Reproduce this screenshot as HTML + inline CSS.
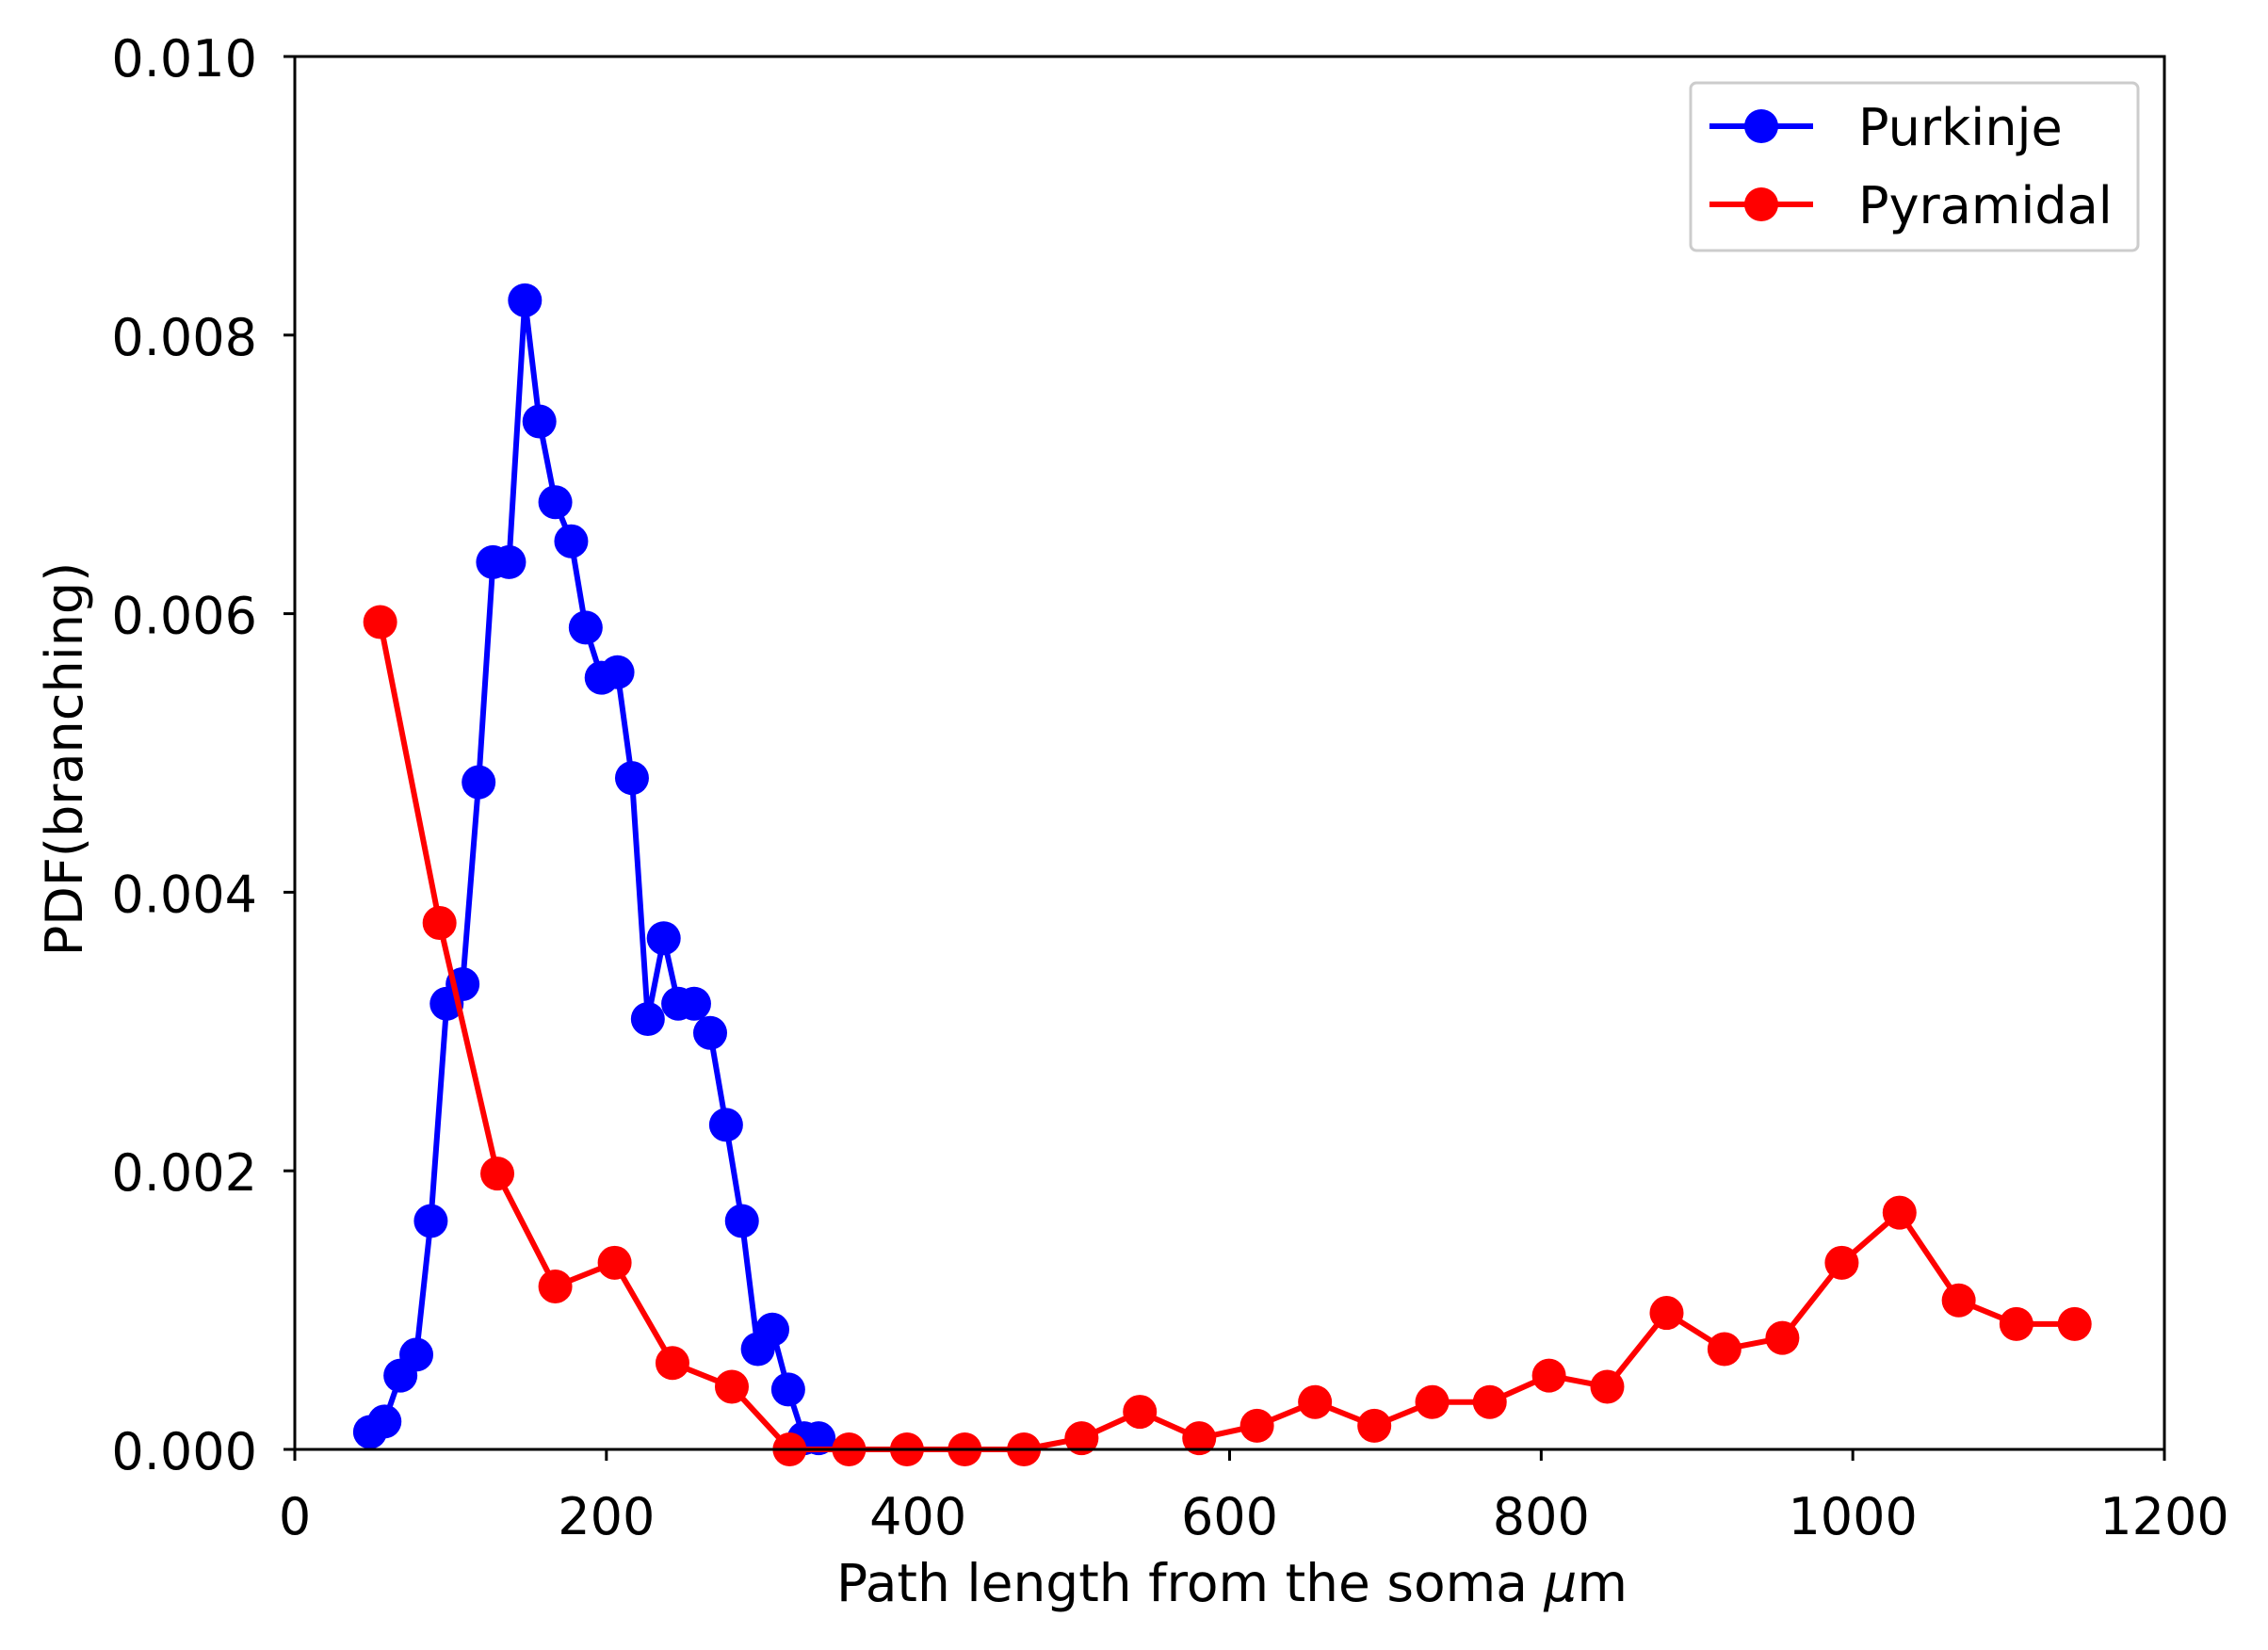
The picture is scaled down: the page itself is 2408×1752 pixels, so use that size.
<!DOCTYPE html>
<html><head><meta charset="utf-8"><style>
html,body{margin:0;padding:0;background:#fff;}
svg{display:block;font-family:"DejaVu Sans","Liberation Sans",sans-serif;}
</style></head><body>
<svg id="chart" width="2408" height="1752" viewBox="0 0 2408 1752">
<rect width="2408" height="1752" fill="#fff"/>
<g id="ticks"></g>
<g id="series"></g>
<rect x="313" y="60" width="1985" height="1479" fill="none" stroke="#000" stroke-width="3"/>
<text x="1308" y="1700" font-size="55" text-anchor="middle">Path length from the soma <tspan font-style="italic">μ</tspan>m</text>
<text transform="translate(87,806) rotate(-90)" font-size="54" text-anchor="middle">PDF(branching)</text>
<g>
<rect x="1795" y="88" width="475" height="178" rx="6" fill="#fff" stroke="#ccc" stroke-width="3"/>
<g>
<line x1="1815" y1="134" x2="1925" y2="134" stroke="#0000ff" stroke-width="6"/>
<circle cx="1870" cy="134" r="18" fill="#0000ff"/>
<text x="1973" y="154" font-size="54">Purkinje</text></g>
<g>
<line x1="1815" y1="217" x2="1925" y2="217" stroke="#ff0000" stroke-width="6"/>
<circle cx="1870" cy="217" r="18" fill="#ff0000"/>
<text x="1973" y="237" font-size="54">Pyramidal</text></g>
</g>
</svg>
<script>
const purkX=[48.3,57.6,67.8,78,87.3,97.5,107.7,118,127.2,137.5,147.7,157,167.2,177.4,186.7,196.9,207.1,216.4,226.6,236.8,246.1,256.3,266.6,276.8,287,297.2,306.5,316.7,326.9,336.2];
const purkY=[0.000125,0.0002,0.00053,0.00068,0.00164,0.0032,0.00334,0.00479,0.00637,0.00637,0.00825,0.00738,0.0068,0.00652,0.0059,0.00554,0.00558,0.00482,0.00309,0.00367,0.0032,0.0032,0.00299,0.00233,0.00164,0.00072,0.00086,0.00043,0.00008,0.00008];
const pyrX=[54.8,92.9,130,167.2,205.3,242.4,280.5,317.6,355.7,392.9,430,468,505,542.4,580.5,617.6,654.8,692.9,730,767,805,842.4,880.5,917.6,954.8,992.9,1030,1068,1105,1142.4];
const pyrY=[0.00594,0.00378,0.00198,0.00117,0.00134,0.00062,0.00045,0,0,0,0,0,0.00008,0.00027,0.00008,0.00017,0.00034,0.00017,0.00034,0.00034,0.00053,0.00045,0.00098,0.00072,0.0008,0.00134,0.0017,0.00107,0.0009,0.0009];
const xTicks=[0,200,400,600,800,1000,1200];
const yTicks=[0,0.002,0.004,0.006,0.008,0.010];
const L=313,R=2298,T=60,B=1539;
const sx=v=>L+(v/1200)*(R-L);
const sy=v=>B-(v/0.01)*(B-T);
const NS="http://www.w3.org/2000/svg";
const tg=document.getElementById('ticks');
function mk(tag,attrs,parent){const e=document.createElementNS(NS,tag);for(const k in attrs)e.setAttribute(k,attrs[k]);parent.appendChild(e);return e;}
xTicks.forEach(v=>{
  const t=mk('line',{x1:sx(v),x2:sx(v),y1:B,y2:B+12,stroke:'#000','stroke-width':3},tg);
  
  
  const l=mk('text',{x:sx(v),y:B+90,'font-size':54,'text-anchor':'middle'},tg);
  l.textContent=String(v);
  
  
});
yTicks.forEach(v=>{
  const t=mk('line',{x1:L-12,x2:L,y1:sy(v),y2:sy(v),stroke:'#000','stroke-width':3},tg);
  
  
  const l=mk('text',{x:L-40,y:sy(v)+21,'font-size':54,'text-anchor':'end'},tg);
  l.textContent=v.toFixed(3);
  
  
});
const sg=document.getElementById('series');
function draw(xs,ys,color,name){
  const g=mk('g',{},sg);
  
  
  const pts=xs.map((x,i)=>sx(x)+','+sy(ys[i])).join(' ');
  const pl=mk('polyline',{points:pts,fill:'none',stroke:color,'stroke-width':6,'stroke-linejoin':'round'},g);
  
  
  xs.forEach((x,i)=>{
    const c=mk('circle',{cx:sx(x),cy:sy(ys[i]),r:18,fill:color},g);
    
    
  });
}
draw(purkX,purkY,'#0000ff','purkinje');
draw(pyrX,pyrY,'#ff0000','pyramidal');
</script>
</body></html>
